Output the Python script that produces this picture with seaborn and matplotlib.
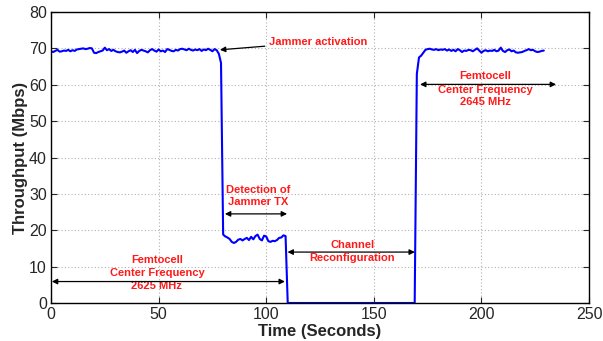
import numpy as np
import pandas as pd
import seaborn as sns
import matplotlib
matplotlib.use("Agg")
import matplotlib.pyplot as plt

# ---------------- data ----------------
phase1_vals = [69.2, 69.0, 69.3, 69.6, 69.1, 69.2, 69.4, 69.3, 69.6, 69.2, 69.5, 69.3, 69.7, 69.8,
               69.9, 70.0, 69.8, 69.9, 70.1, 70.0, 68.8, 68.7, 69.0, 69.2, 69.4, 70.2, 69.5, 69.8,
               69.3, 69.6, 69.2, 69.0, 68.9, 69.1, 69.4, 68.8, 69.2, 69.5, 69.0, 69.6, 68.7, 69.3,
               69.6, 69.4, 69.2, 68.9, 69.5, 69.8, 69.4, 69.1, 69.7, 69.2, 69.4, 69.0, 69.8, 69.6,
               69.3, 69.2, 69.6, 69.4, 69.8, 69.9, 69.7, 69.5, 69.9, 69.6, 69.4, 69.7, 69.5, 69.8,
               69.3, 69.7, 69.5, 69.9, 69.6, 69.2, 69.8, 69.5, 68.5, 66.0]          # t = 0..79
phase2_vals = [18.8, 18.3, 18.0, 17.6, 16.8, 16.5, 16.8, 17.4, 17.6, 17.2, 17.6, 17.9, 17.3,
               18.2, 17.5, 18.4, 18.8, 17.6, 17.2, 18.5, 18.3, 17.0, 16.8, 17.1, 17.0, 17.3,
               17.9, 18.0, 18.6, 18.4]                                             # t = 80..109
phase3_vals = [0.0] * 60                                                           # t = 110..169
phase4_vals = [63.0, 67.5, 68.0, 68.8, 69.6,                                       # t = 170..174
               69.8, 69.9, 69.7, 69.6, 69.8, 69.5, 69.7, 69.6, 69.8, 69.4, 69.7, 69.3, 69.6,
               69.2, 69.8, 69.5, 69.0, 69.4, 69.3, 69.6, 69.5, 69.2, 69.6, 70.0, 69.4, 68.8,
               69.3, 69.5, 69.2, 69.4, 69.3, 69.6, 69.2, 69.4, 70.2, 69.3, 69.0, 69.5, 69.7,
               69.2, 69.4, 68.9, 68.8, 68.9, 69.0, 69.3, 69.5, 69.8, 69.5, 69.6, 69.2, 69.0,
               69.1, 69.3, 69.4]                                                   # t = 175..229

throughput = phase1_vals + phase2_vals + phase3_vals + phase4_vals
time_s = list(range(len(throughput)))

x_ticks = [0, 50, 100, 150, 200, 250]
y_ticks = [0, 10, 20, 30, 40, 50, 60, 70, 80]

df = pd.DataFrame({"Time (Seconds)": time_s, "Throughput (Mbps)": throughput})

# ---------------- plot ----------------
sns.set_style("white")
plt.rcParams['font.family'] = ['Liberation Sans', 'DejaVu Sans']

fig = plt.figure(figsize=(6.03, 3.41), dpi=100)
ax = fig.add_axes([51/603, 1-303/341, (589-51)/603, (303-12)/341])

sns.lineplot(data=df, x="Time (Seconds)", y="Throughput (Mbps)", ax=ax,
             color=(0, 0, 1), linewidth=1.5)

ax.set_xlim(0, 250)
ax.set_ylim(0, 80)
ax.set_xticks(x_ticks)
ax.set_yticks(y_ticks)
ax.tick_params(axis='both', direction='in', length=4, width=0.8, labelsize=11.5,
               top=True, right=True, bottom=True, left=True, pad=3)
for s in ax.spines.values():
    s.set_color('black')
    s.set_linewidth(1.0)
ax.grid(True, linestyle=(0, (1, 2)), color='#b0b0b0', linewidth=0.8)

ax.set_xlabel("Time (Seconds)", fontsize=12, fontweight='bold', labelpad=1)
ax.set_ylabel("Throughput (Mbps)", fontsize=12, fontweight='bold', labelpad=1)

red = (1.0, 0.1, 0.1)
tkw = dict(color=red, fontsize=8, fontweight='bold', ha='center', va='center')

# Jammer activation
ax.annotate("Jammer activation", xy=(78.5, 69.6), xytext=(101.5, 71.8),
            ha='left', va='center', color=red, fontsize=8, fontweight='bold',
            arrowprops=dict(arrowstyle='-|>', color='black', lw=0.9,
                            mutation_scale=8, shrinkA=1, shrinkB=0))

dbl = dict(arrowstyle='<|-|>', color='black', lw=0.9, mutation_scale=8,
           shrinkA=0, shrinkB=0)

# Detection of Jammer TX
ax.text(96.2, 31.1, "Detection of", **tkw)
ax.text(96.2, 27.8, "Jammer TX", **tkw)
ax.annotate("", xy=(80.8, 24.5), xytext=(109.7, 24.5), arrowprops=dbl)

# Channel Reconfiguration
ax.text(139.9, 15.9, "Channel", **tkw)
ax.text(139.9, 12.4, "Reconfiguration", **tkw)
ax.annotate("", xy=(109.9, 14.0), xytext=(169.1, 14.0), arrowprops=dbl)

# Femtocell 2625 MHz
ax.text(49.2, 11.8, "Femtocell", **tkw)
ax.text(49.2, 8.25, "Center Frequency", **tkw)
ax.text(49.2, 4.7, "2625 MHz", **tkw)
ax.annotate("", xy=(0.4, 5.9), xytext=(108.7, 5.9), arrowprops=dbl)

# Femtocell 2645 MHz
ax.text(201.7, 62.5, "Femtocell", **tkw)
ax.text(201.7, 58.6, "Center Frequency", **tkw)
ax.text(201.7, 55.3, "2645 MHz", **tkw)
ax.annotate("", xy=(171.5, 60.1), xytext=(234.7, 60.1), arrowprops=dbl)

fig.savefig("out.png", dpi=100)
